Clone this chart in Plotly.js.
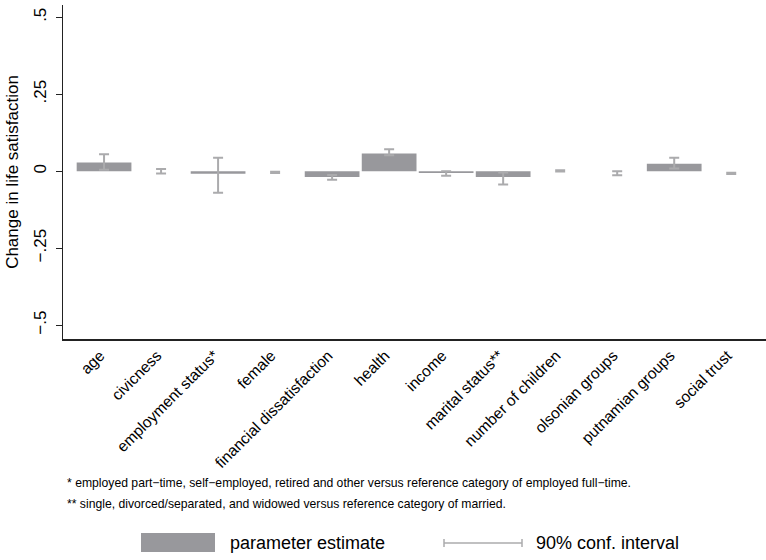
<!DOCTYPE html>
<html>
<head>
<meta charset="utf-8">
<script src="https://cdn.plot.ly/plotly-3.0.1.min.js"></script>
<style>html,body{margin:0;padding:0;background:#fff;}#chart{width:766px;height:560px;}</style>
</head>
<body>
<div id="chart"></div>
<script>
const categories = ["age","civicness","employment status*","female","financial dissatisfaction","health","income","marital status**","number of children","olsonian groups","putnamian groups","social trust"];
const estimates = [0.028, 0.000, -0.008, 0.000, -0.019, 0.058, -0.006, -0.019, 0.000, 0.000, 0.024, 0.000];
const ciLow  = [0.005, -0.007, -0.070, -0.006, -0.028, 0.052, -0.015, -0.043, -0.001, -0.013, 0.009, -0.009];
const ciHigh = [0.055, 0.007, 0.044, -0.002, -0.012, 0.071, 0.000, -0.004, 0.003, 0.000, 0.044, -0.005];
const yTickVals = [-0.5, -0.25, 0, 0.25, 0.5];
const yTickText = ["\u2212.5", "\u2212.25", "0", ".25", ".5"];

const font = "Liberation Sans, Arial, Helvetica, sans-serif";
const xIdx = categories.map((c, i) => i);

const trace = {
  type: "bar",
  x: xIdx,
  y: estimates,
  width: 0.96,
  marker: {color: "#98989c", line: {width: 0}},
  error_y: {
    type: "data",
    symmetric: false,
    array: ciHigh.map((h, i) => h - estimates[i]),
    arrayminus: estimates.map((e, i) => e - ciLow[i]),
    color: "#ababad",
    thickness: 2,
    width: 5
  },
  hoverinfo: "skip",
  showlegend: false
};

const px = v => (v - 63) / 703;
const py = v => -(v - 339) / 334;

const layout = {
  width: 766, height: 560,
  margin: {l: 63, r: 0, t: 5, b: 221},
  paper_bgcolor: "#fff", plot_bgcolor: "#fff",
  font: {family: font, color: "#000"},
  showlegend: false,
  xaxis: {
    range: [-0.72, 11.61],
    tickmode: "array", tickvals: xIdx, ticktext: categories,
    tickangle: -45, automargin: false, tickfont: {size: 15.5, family: font, color: "#000"},
    ticklabelshift: -4,
    showline: true, linecolor: "#222", linewidth: 1.5,
    ticks: "", showgrid: false, zeroline: false, fixedrange: true
  },
  yaxis: {
    range: [-0.545, 0.54],
    tickmode: "array", tickvals: yTickVals, ticktext: yTickText,
    tickangle: -90, tickfont: {size: 17, family: font, color: "#000"},
    ticks: "outside", ticklen: 6, tickcolor: "#222", tickwidth: 1,
    ticklabelstandoff: 3,
    showline: true, linecolor: "#222", linewidth: 1.5,
    showgrid: false, zeroline: false,
    title: {text: "Change in life satisfaction", font: {size: 17, family: font, color: "#000"}, standoff: 8},
    fixedrange: true
  },
  shapes: [
    {type: "rect", xref: "paper", yref: "paper", x0: px(141), x1: px(215), y0: py(552), y1: py(533), fillcolor: "#98989c", line: {width: 0}},
    {type: "line", xref: "paper", yref: "paper", x0: px(444), x1: px(522), y0: py(543), y1: py(543), line: {color: "#ababad", width: 1.5}},
    {type: "line", xref: "paper", yref: "paper", x0: px(444), x1: px(444), y0: py(539), y1: py(547), line: {color: "#ababad", width: 1.5}},
    {type: "line", xref: "paper", yref: "paper", x0: px(522), x1: px(522), y0: py(539), y1: py(547), line: {color: "#ababad", width: 1.5}}
  ],
  annotations: [
    {xref: "paper", yref: "paper", x: px(65), y: py(483), xanchor: "left", yanchor: "middle", showarrow: false,
     text: "* employed part\u2212time, self\u2212employed, retired and other versus reference category of employed full\u2212time.", font: {size: 12.2, family: font, color: "#000"}},
    {xref: "paper", yref: "paper", x: px(65), y: py(504), xanchor: "left", yanchor: "middle", showarrow: false,
     text: "** single, divorced/separated, and widowed versus reference category of married.", font: {size: 12.2, family: font, color: "#000"}},
    {xref: "paper", yref: "paper", x: px(228), y: py(543), xanchor: "left", yanchor: "middle", showarrow: false,
     text: "parameter estimate", font: {size: 18, family: font, color: "#000"}},
    {xref: "paper", yref: "paper", x: px(534), y: py(543), xanchor: "left", yanchor: "middle", showarrow: false,
     text: "90% conf. interval", font: {size: 18, family: font, color: "#000"}}
  ]
};

Plotly.newPlot("chart", [trace], layout, {staticPlot: true, displayModeBar: false});
</script>
</body>
</html>
